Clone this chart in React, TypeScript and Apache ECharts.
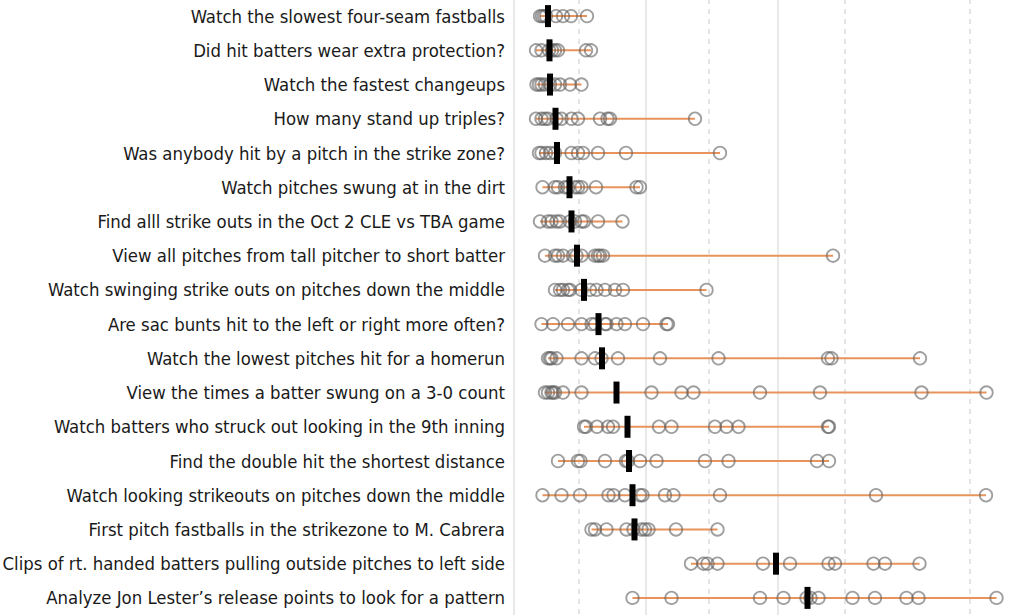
import React, { useEffect, useRef } from "react";
import * as echarts from "echarts";

// Task labels, top to bottom
const categories: string[] = [
  "Watch the slowest four-seam fastballs",
  "Did hit batters wear extra protection?",
  "Watch the fastest changeups",
  "How many stand up triples?",
  "Was anybody hit by a pitch in the strike zone?",
  "Watch pitches swung at in the dirt",
  "Find alll strike outs in the Oct 2 CLE vs TBA game",
  "View all pitches from tall pitcher to short batter",
  "Watch swinging strike outs on pitches down the middle",
  "Are sac bunts hit to the left or right more often?",
  "Watch the lowest pitches hit for a homerun",
  "View the times a batter swung on a 3-0 count",
  "Watch batters who struck out looking in the 9th inning",
  "Find the double hit the shortest distance",
  "Watch looking strikeouts on pitches down the middle",
  "First pitch fastballs in the strikezone to M. Cabrera",
  "Clips of rt. handed batters pulling outside pitches to left side",
  "Analyze Jon Lester\u2019s release points to look for a pattern",
];

// Individual observations per task (same order as categories)
const r1 = [5.2, 5.6, 6.0, 6.4, 8.4, 9.8, 11.4, 14.6];
const r2 = [4.4, 5.5, 7.0, 7.6, 8.2, 8.8, 14.4, 15.4];
const r3 = [4.5, 5.0, 5.5, 6.2, 7.2, 8.2, 9.2, 11.2, 13.5];
const r4 = [4.4, 5.5, 6.2, 6.8, 8.5, 9.5, 11.5, 12.8, 17.2, 18.7, 19.2, 36.2];
const r5 = [5.0, 5.5, 6.4, 7.2, 8.2, 11.5, 12.8, 13.8, 16.8, 22.4, 41.2];
const r6 = [5.7, 8.2, 8.8, 10.2, 10.8, 12.2, 12.8, 13.5, 16.4, 24.5, 25.2];
const r7 = [5.2, 6.8, 7.5, 8.5, 9.2, 11.2, 12.2, 13.5, 14.0, 16.8, 21.7];
const r8 = [6.2, 8.2, 8.8, 9.8, 11.8, 12.5, 13.5, 16.2, 16.8, 17.2, 17.8, 63.8];
const r9 = [8.2, 9.2, 9.8, 10.8, 11.2, 13.5, 15.2, 16.5, 18.2, 20.2, 21.8, 38.5];
const r10 = [5.5, 7.8, 10.8, 13.5, 15.5, 16.2, 18.2, 18.5, 20.5, 22.2, 25.8, 30.5, 30.8];
const r11 = [6.8, 7.2, 7.5, 8.5, 13.5, 16.2, 17.5, 20.8, 29.2, 40.9, 62.8, 63.5, 81.2];
const r12 = [6.2, 6.8, 7.5, 7.8, 8.2, 9.8, 13.5, 27.5, 33.5, 35.9, 49.2, 61.2, 81.5, 94.5];
const r13 = [14.0, 14.4, 16.6, 18.8, 19.8, 29.0, 31.5, 40.2, 42.5, 44.9, 62.8, 63.0];
const r14 = [8.8, 12.8, 13.3, 18.2, 22.4, 22.8, 25.2, 28.5, 38.2, 42.9, 60.6, 63.0];
const r15 = [5.7, 9.5, 13.2, 18.9, 19.9, 22.2, 25.2, 25.7, 30.2, 31.9, 41.2, 72.4, 94.4];
const r16 = [15.5, 16.2, 18.5, 22.5, 23.9, 25.5, 26.2, 26.9, 32.4, 40.7];
const r17 = [35.4, 37.9, 38.7, 40.7, 49.8, 55.2, 62.9, 64.2, 71.9, 74.2, 81.1];
const r18 = [23.7, 31.5, 49.2, 53.9, 58.5, 59.3, 60.9, 67.7, 72.2, 78.5, 80.9, 96.5];
const observations: number[][] = [r1, r2, r3, r4, r5, r6, r7, r8, r9, r10, r11, r12, r13, r14, r15, r16, r17, r18];

// Medians per task
const medians: number[] = [6.8, 7.1, 7.2, 8.3, 8.6, 11.1, 11.5, 12.6, 14.0, 16.9, 17.6, 20.5, 22.7, 23.0, 23.7, 24.1, 52.4, 58.7];

// Reference gridlines
const solidGridValues: number[] = [0, 26.3, 52.7];
const dashedGridValues: number[] = [12.9, 38.9, 66.1, 91.1];

export default function App() {
  const ref = useRef<HTMLDivElement>(null);

  useEffect(() => {
    if (!ref.current) return;
    const chart = echarts.init(ref.current, undefined, { renderer: "svg" });

    const pointData: [number, number][] = [];
    observations.forEach((arr, i) => arr.forEach((v) => pointData.push([v, i])));
    const rangeData = observations.map((arr, i) => [Math.min(...arr), i, Math.max(...arr)]);
    const medianData = medians.map((m, i) => [m, i]);

    const gridLines = [
      ...solidGridValues.map((v) => ({
        xAxis: v,
        lineStyle: { type: "solid", color: "#e2e2e2", width: 1.5 },
      })),
      ...dashedGridValues.map((v) => ({
        xAxis: v,
        lineStyle: { type: [5, 5], color: "#dcdcdc", width: 1.5 },
      })),
    ];

    chart.setOption({
      animation: false,
      grid: {
        left: 514,
        top: -1,
        width: 490,
        height: 616,
        containLabel: false,
        outerBoundsMode: "none",
      },
      xAxis: {
        type: "value",
        min: 0,
        max: 98,
        axisLine: { show: false },
        axisTick: { show: false },
        axisLabel: { show: false },
        splitLine: { show: false },
      },
      yAxis: {
        type: "category",
        data: categories,
        inverse: true,
        axisLine: { show: false },
        axisTick: { show: false },
        splitLine: { show: false },
        axisLabel: {
          fontSize: 18.4,
          fontFamily: "'DejaVu Sans Condensed', 'Liberation Sans Narrow', sans-serif",
          color: "#1a1a1a",
          margin: 9,
        },
      },
      series: [
        {
          type: "custom",
          name: "range",
          silent: true,
          z: 2,
          data: rangeData,
          encode: { x: 0, y: 1 },
          renderItem: (params: any, api: any) => {
            const a = api.coord([api.value(0), api.value(1)]);
            const b = api.coord([api.value(2), api.value(1)]);
            return {
              type: "line",
              shape: { x1: a[0], y1: a[1], x2: b[0], y2: b[1] },
              style: { stroke: "#e8935c", lineWidth: 2 },
            };
          },
        },
        {
          type: "scatter",
          name: "observations",
          z: 3,
          symbol: "circle",
          symbolSize: 12.5,
          data: pointData,
          itemStyle: {
            color: "rgba(255,255,255,0)",
            borderColor: "rgba(95,95,95,0.6)",
            borderWidth: 1.8,
            opacity: 1,
          },
          markLine: {
            silent: true,
            symbol: ["none", "none"],
            label: { show: false },
            z: 1,
            data: gridLines,
          },
        },
        {
          type: "scatter",
          name: "median",
          z: 4,
          symbol: "rect",
          symbolSize: [6, 22],
          data: medianData,
          itemStyle: { color: "#000", opacity: 1 },
        },
      ],
    });

    return () => chart.dispose();
  }, []);

  return (
    <div
      ref={ref}
      style={{ position: "fixed", left: 0, top: 0, width: 1010, height: 616, background: "#fff" }}
    />
  );
}
